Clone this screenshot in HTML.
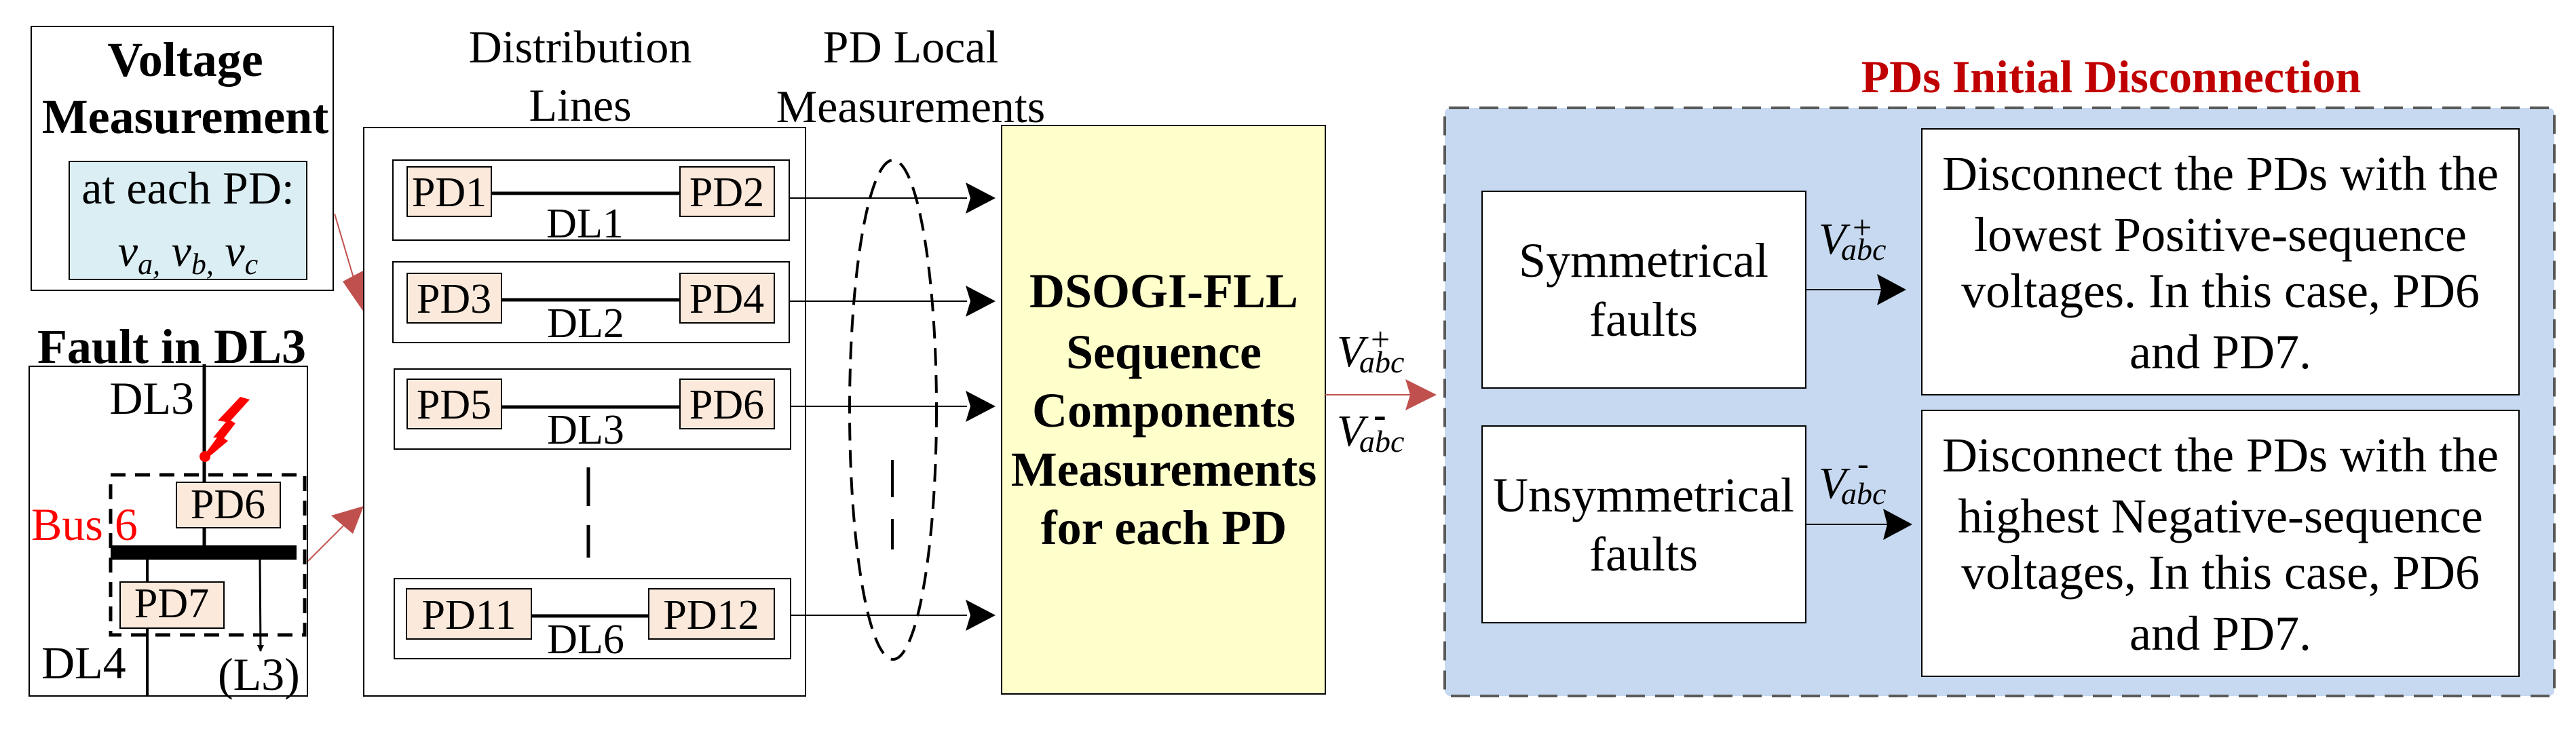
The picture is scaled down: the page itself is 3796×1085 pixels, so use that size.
<!DOCTYPE html>
<html><head><meta charset="utf-8"><style>
html,body{margin:0;padding:0;background:#fff;}
svg{display:block;font-family:"Liberation Serif","Times New Roman",Times,serif;}
svg text{font-family:"Liberation Serif","Times New Roman",Times,serif;}
</style></head><body>
<svg width="3796" height="1085" viewBox="0 0 3796 1085" xmlns="http://www.w3.org/2000/svg" font-family="Liberation Serif, Times New Roman, serif">
<defs>
<marker id="ab" markerWidth="10" markerHeight="10" refX="9" refY="5" orient="auto" markerUnits="userSpaceOnUse"><path d="M0,0 L10,5 L0,10 Z" fill="#000"/></marker>
</defs>
<!-- Voltage Measurement box -->
<rect x="46" y="39" width="445" height="389" fill="#fff" stroke="#000" stroke-width="2"/>
<text x="273" y="112" font-size="72" font-weight="bold" text-anchor="middle">Voltage</text>
<text x="273" y="196" font-size="72" font-weight="bold" text-anchor="middle">Measurement</text>
<rect x="102" y="238" width="350" height="174" fill="#daeef3" stroke="#000" stroke-width="2"/>
<text x="277" y="300" font-size="68" text-anchor="middle">at each PD:</text>
<text x="277" y="392" font-size="66" font-style="italic" text-anchor="middle">v<tspan font-size="44" dy="12">a,</tspan><tspan dy="-12"> v</tspan><tspan font-size="44" dy="12">b,</tspan><tspan dy="-12"> v</tspan><tspan font-size="44" dy="12">c</tspan></text>

<!-- Fault box -->
<text x="253" y="535" font-size="72" font-weight="bold" text-anchor="middle">Fault in DL3</text>
<rect x="43" y="540" width="410" height="486" fill="#fff" stroke="#000" stroke-width="2"/>
<line x1="301" y1="537" x2="301" y2="804" stroke="#000" stroke-width="5"/>
<text x="286" y="610" font-size="68" text-anchor="end">DL3</text>
<polygon points="354,585 368,589 340,620 347,624 330,646 336,650 305,676 300,672 320,645 314,645 333,622 321,620" fill="#ff0000"/>
<circle cx="302" cy="673" r="8" fill="#ff0000"/>
<rect x="163" y="700" width="286" height="236" fill="none" stroke="#000" stroke-width="5" stroke-dasharray="22,14"/>
<rect x="260" y="711" width="153" height="67" fill="#fbe9db" stroke="#000" stroke-width="2"/>
<text x="336" y="764" font-size="62" text-anchor="middle">PD6</text>
<text x="46" y="796" font-size="68" fill="#ff0000">Bus 6</text>
<rect x="163" y="804" width="274" height="21" fill="#000"/>
<line x1="217" y1="825" x2="217" y2="1026" stroke="#000" stroke-width="4"/>
<rect x="177" y="858" width="153" height="68" fill="#fbe9db" stroke="#000" stroke-width="2"/>
<text x="253" y="910" font-size="62" text-anchor="middle">PD7</text>
<line x1="383" y1="825" x2="384" y2="960" stroke="#000" stroke-width="3" marker-end="url(#ab)"/>
<text x="61" y="1000" font-size="68">DL4</text>
<text x="321" y="1017" font-size="68">(L3)</text>

<!-- red arrows -->
<line x1="493" y1="315" x2="530" y2="440" stroke="#c0504d" stroke-width="2"/>
<polygon points="536,460 505,415 537,398" fill="#c0504d"/>
<line x1="454" y1="827" x2="516" y2="765" stroke="#c0504d" stroke-width="2"/>
<polygon points="536,746 488,760 520,787" fill="#c0504d"/>

<!-- Distribution lines -->
<text x="855" y="92" font-size="68" text-anchor="middle">Distribution</text>
<text x="855" y="178" font-size="68" text-anchor="middle">Lines</text>
<text x="1342" y="92" font-size="68" text-anchor="middle">PD Local</text>
<text x="1342" y="180" font-size="68" text-anchor="middle">Measurements</text>
<rect x="536" y="188" width="651" height="838" fill="#fff" stroke="#000" stroke-width="2"/>

<g stroke="#000" stroke-width="2">
<rect x="579" y="236" width="584" height="118" fill="#fff"/>
<rect x="579" y="386" width="584" height="119" fill="#fff"/>
<rect x="581" y="544" width="584" height="118" fill="#fff"/>
<rect x="581" y="853" width="584" height="118" fill="#fff"/>
</g>
<g stroke="#000" stroke-width="5">
<line x1="724" y1="285" x2="1002" y2="285"/>
<line x1="739" y1="442" x2="1002" y2="442"/>
<line x1="739" y1="600" x2="1002" y2="600"/>
<line x1="783" y1="908" x2="956" y2="908"/>
</g>
<g fill="#fbe9db" stroke="#000" stroke-width="2">
<rect x="600" y="246" width="124" height="73"/>
<rect x="1002" y="246" width="139" height="73"/>
<rect x="600" y="403" width="139" height="73"/>
<rect x="1002" y="403" width="139" height="73"/>
<rect x="600" y="559" width="139" height="73"/>
<rect x="1002" y="559" width="139" height="73"/>
<rect x="599" y="868" width="184" height="74"/>
<rect x="956" y="868" width="185" height="74"/>
</g>
<g font-size="62" text-anchor="middle">
<text x="662" y="304">PD1</text>
<text x="1071" y="304">PD2</text>
<text x="669" y="461">PD3</text>
<text x="1071" y="461">PD4</text>
<text x="669" y="617">PD5</text>
<text x="1071" y="617">PD6</text>
<text x="691" y="927">PD11</text>
<text x="1048" y="927">PD12</text>
<text x="862" y="350">DL1</text>
<text x="863" y="497">DL2</text>
<text x="863" y="654">DL3</text>
<text x="863" y="963">DL6</text>
</g>
<line x1="867" y1="689" x2="867" y2="746" stroke="#000" stroke-width="5"/>
<line x1="867" y1="774" x2="867" y2="822" stroke="#000" stroke-width="5"/>

<!-- arrows to DSOGI -->
<g stroke="#000" stroke-width="2">
<line x1="1163" y1="292" x2="1425" y2="292"/>
<line x1="1163" y1="444" x2="1425" y2="444"/>
<line x1="1165" y1="599" x2="1425" y2="599"/>
<line x1="1165" y1="907" x2="1425" y2="907"/>
</g>
<g fill="#000">
<polygon points="1423,269 1467,292 1423,315 1430,292"/>
<polygon points="1423,421 1467,444 1423,467 1430,444"/>
<polygon points="1423,576 1467,599 1423,622 1430,599"/>
<polygon points="1423,884 1467,907 1423,930 1430,907"/>
</g>
<ellipse cx="1316" cy="604" rx="64" ry="368" fill="none" stroke="#000" stroke-width="4" stroke-dasharray="26,14"/>
<line x1="1315" y1="678" x2="1315" y2="733" stroke="#000" stroke-width="4"/>
<line x1="1315" y1="765" x2="1315" y2="810" stroke="#000" stroke-width="4"/>

<!-- DSOGI box -->
<rect x="1476" y="185" width="477" height="838" fill="#ffffcc" stroke="#000" stroke-width="2"/>
<g font-size="72" font-weight="bold" text-anchor="middle">
<text x="1715" y="453">DSOGI-FLL</text>
<text x="1715" y="543">Sequence</text>
<text x="1715" y="629">Components</text>
<text x="1715" y="716">Measurements</text>
<text x="1715" y="802">for each PD</text>
</g>
<line x1="1953" y1="582" x2="2080" y2="582" stroke="#c0504d" stroke-width="2"/>
<polygon points="2071,559 2117,582 2071,605 2078,582" fill="#c0504d"/>
<text x="1970" y="540" font-size="66" font-style="italic">V</text>
<text x="2003" y="549" font-size="46" font-style="italic">abc</text>
<text x="2020" y="517" font-size="50">+</text>
<text x="1970" y="657" font-size="66" font-style="italic">V</text>
<text x="2003" y="666" font-size="46" font-style="italic">abc</text>
<text x="2024" y="630" font-size="56" font-weight="bold">-</text>

<!-- PDs Initial Disconnection -->
<text x="3111" y="136" font-size="68" font-weight="bold" fill="#c00000" text-anchor="middle">PDs Initial Disconnection</text>
<rect x="2129" y="159" width="1635" height="867" rx="8" fill="#c6d9f0" stroke="#595959" stroke-width="4" stroke-dasharray="28,15"/>
<rect x="2184" y="282" width="477" height="290" fill="#fff" stroke="#000" stroke-width="2"/>
<rect x="2184" y="628" width="477" height="290" fill="#fff" stroke="#000" stroke-width="2"/>
<rect x="2832" y="190" width="880" height="392" fill="#fff" stroke="#000" stroke-width="2"/>
<rect x="2832" y="605" width="880" height="392" fill="#fff" stroke="#000" stroke-width="2"/>
<g font-size="72" text-anchor="middle">
<text x="2422" y="408">Symmetrical</text>
<text x="2422" y="495">faults</text>
<text x="2422" y="754">Unsymmetrical</text>
<text x="2422" y="841">faults</text>
<text x="3272" y="280">Disconnect the PDs with the</text>
<text x="3272" y="370">lowest Positive-sequence</text>
<text x="3272" y="453">voltages. In this case, PD6</text>
<text x="3272" y="543">and PD7.</text>
<text x="3272" y="695">Disconnect the PDs with the</text>
<text x="3272" y="785">highest Negative-sequence</text>
<text x="3272" y="868">voltages, In this case, PD6</text>
<text x="3272" y="958">and PD7.</text>
</g>
<line x1="2661" y1="427" x2="2775" y2="427" stroke="#000" stroke-width="2"/>
<polygon points="2766,404 2809,427 2766,450 2772,427" fill="#000"/>
<line x1="2661" y1="773" x2="2785" y2="773" stroke="#000" stroke-width="2"/>
<polygon points="2775,750 2818,773 2775,796 2781,773" fill="#000"/>
<text x="2680" y="374" font-size="66" font-style="italic">V</text>
<text x="2713" y="383" font-size="46" font-style="italic">abc</text>
<text x="2730" y="352" font-size="50">+</text>
<text x="2680" y="734" font-size="66" font-style="italic">V</text>
<text x="2713" y="743" font-size="46" font-style="italic">abc</text>
<text x="2737" y="700" font-size="50">-</text>
</svg>
</body></html>
